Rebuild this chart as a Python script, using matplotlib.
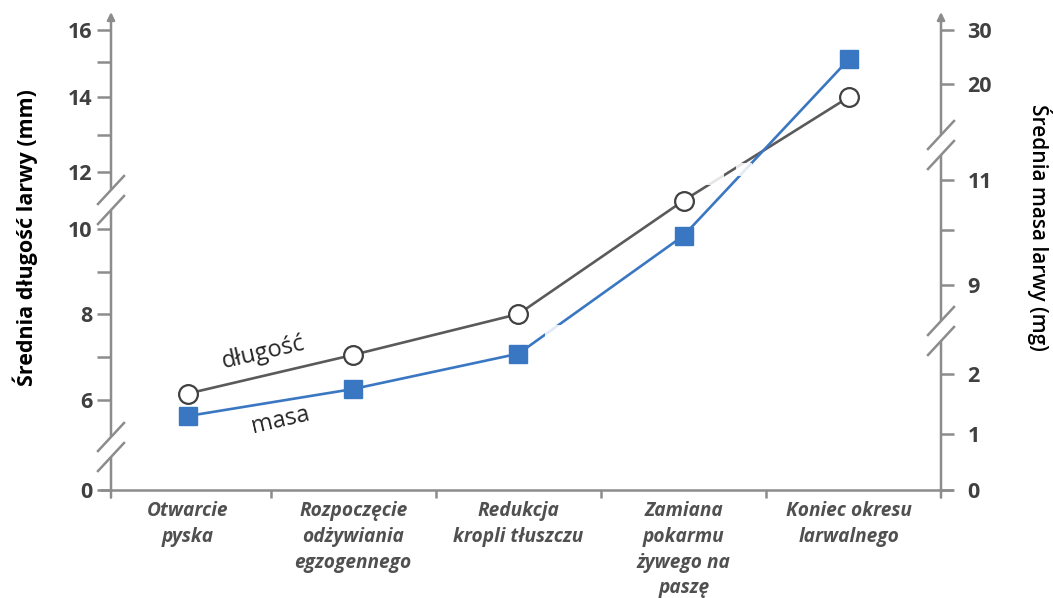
import numpy as np
import matplotlib.pyplot as plt
from matplotlib.patches import Polygon, Rectangle

plt.rcParams['font.family'] = ['Open Sans', 'DejaVu Sans']

stages = ['Otwarcie\npyska', 'Rozpoczęcie\nodżywiania\negzogennego',
          'Redukcja\nkropli tłuszczu', 'Zamiana\npokarmu\nżywego na\npaszę',
          'Koniec okresu\nlarwalnego']
dlugosc = [6.15, 7.05, 8.0, 11.0, 14.0]   # mm, left axis
masa = [1.3, 1.75, 3.6, 9.9, 24.6]        # mg, right axis

left_ticks = [0, 6, 8, 10, 12, 14, 16]
left_minor = [7, 9, 13, 15]
right_ticks = [0, 1, 2, 9, 11, 20, 30]
right_minor = [10]

# broken axes: value -> height (px) above the x axis
left_knots = ([0, 6, 7, 8, 9, 10, 12, 13, 14, 15, 16, 17],
              [0, 90, 133, 176, 218, 261, 318, 355, 393, 428, 460, 492])
right_knots = ([0, 1, 2, 9, 10, 11, 20, 30, 40],
               [0, 56, 116, 205, 260, 310, 406, 460, 514])
AX_H = 478.0

GRAY = '#8c8c8c'
TXT = '#404040'
LINE = '#5a5a5a'
BLUE = '#3a77c2'


def broken(knots):
    v = np.array(knots[0], float)
    p = np.array(knots[1], float)
    return (lambda x: np.interp(x, v, p)), (lambda y: np.interp(y, p, v))


fig = plt.figure(figsize=(10.53, 5.98), dpi=100)
ax = fig.add_axes([111 / 1053, (598 - 490) / 598, 830 / 1053, AX_H / 598])
ax2 = ax.twinx()

fl, il = broken(left_knots)
fr, ir = broken(right_knots)
ax.set_yscale('function', functions=(fl, il))
ax2.set_yscale('function', functions=(fr, ir))
ax.set_ylim(0, il(AX_H))
ax2.set_ylim(0, ir(AX_H))
ax.set_xlim(-0.466, 4.557)

x = np.arange(len(stages))
ax.plot(x, dlugosc, color=LINE, lw=1.9, marker='o', ms=13.5,
        mfc='white', mec='#404040', mew=1.6, zorder=3)
ax2.plot(x, masa, color=BLUE, lw=1.9, marker='s', ms=13,
         mfc=BLUE, mec=BLUE, zorder=3)

for a in (ax, ax2):
    for s in a.spines.values():
        s.set_visible(False)
    a.set_facecolor('none')

ax.set_yticks(left_ticks, labels=[str(t) for t in left_ticks],
              fontsize=15.5, fontweight='bold', color=TXT)
ax.set_yticks(left_minor, minor=True)
ax.tick_params(axis='y', which='both', direction='out', length=10,
               width=1.8, color=GRAY, pad=3.5)
ax2.set_yticks(right_ticks, labels=[str(t) for t in right_ticks],
               fontsize=15.5, fontweight='bold', color=TXT)
ax2.set_yticks(right_minor, minor=True)
ax2.tick_params(axis='y', which='both', direction='out', length=9,
                width=1.8, color=GRAY, pad=10)

ax.set_xticks(x, labels=stages, fontsize=13.8, fontweight='bold',
              fontstyle='italic', color='#505050', linespacing=1.38)
ax.set_xticks([0.5, 1.5, 2.5, 3.5], minor=True)
ax.tick_params(axis='x', which='major', length=0, pad=8)
ax.tick_params(axis='x', which='minor', direction='out', length=6,
               width=1.8, color=GRAY)

# axis lines
ax.plot([-0.013, 1.014], [0, 0], transform=ax.transAxes, color=GRAY,
        lw=1.8, clip_on=False, solid_capstyle='butt')
for xs in (0, 1):
    ax.annotate('', xy=(xs, 1.0), xytext=(xs, -0.016), xycoords='axes fraction',
                arrowprops=dict(arrowstyle='-|>', color=GRAY, lw=1.8,
                                mutation_scale=11, shrinkA=0, shrinkB=0))

# gaps where the lines run through the axis breaks
for (x0, x1, y0, y1) in [(545, 572, 147, 165), (692, 724, 305, 322),
                         (736, 752, 314, 327)]:
    ax2.add_patch(Rectangle(((x0 - 111) / 830, y0 / AX_H), (x1 - x0) / 830,
                            (y1 - y0) / AX_H, transform=ax2.transAxes,
                            facecolor='white', alpha=0.85, edgecolor='none',
                            zorder=5))

# break marks
dx, dy, sep = 13 / 830, 14 / AX_H, 10 / AX_H
for (cx, cy) in [(0, 43), (0, 290), (1, 345), (1, 159)]:
    cy = cy / AX_H
    ax2.add_patch(Polygon([(cx - dx, cy - sep - dy), (cx + dx, cy - sep + dy),
                           (cx + dx, cy + sep + dy), (cx - dx, cy + sep - dy)],
                          closed=True, transform=ax2.transAxes,
                          facecolor='white', edgecolor='none', clip_on=False,
                          zorder=6))
    for s in (-sep, sep):
        ax2.plot([cx - dx, cx + dx], [cy + s - dy, cy + s + dy],
                 transform=ax2.transAxes, color=GRAY, lw=1.8,
                 clip_on=False, zorder=7)

ax.text(0.183, 0.287, 'długość', transform=ax.transAxes, fontsize=17,
        rotation=13, ha='center', va='center', color='#262626')
ax.text(0.204, 0.146, 'masa', transform=ax.transAxes, fontsize=17,
        rotation=13, ha='center', va='center', color='#262626')

fig.text(25 / 1053, 1 - 238 / 598, 'Średnia długość larwy (mm)', rotation=90,
         ha='center', va='center', fontsize=15.5, fontweight='bold',
         color='black')
fig.text(1040 / 1053, 1 - 227 / 598, 'Średnia masa larwy (mg)', rotation=-90,
         ha='center', va='center', fontsize=15, fontweight='semibold',
         color='black')

fig.savefig('out.png', dpi=100)
